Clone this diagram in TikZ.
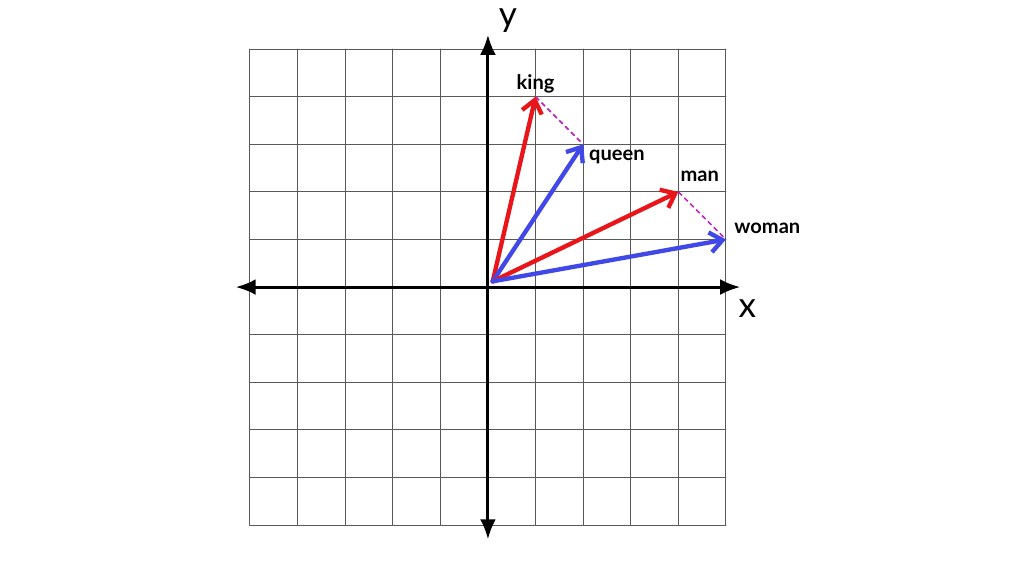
\documentclass[tikz,border=0pt]{standalone}
\usepackage{fontspec}
\setmainfont{Lato}
\usetikzlibrary{arrows.meta}
\definecolor{vred}{RGB}{232,22,26}
\definecolor{vblue}{RGB}{64,72,232}
\definecolor{vdiff}{RGB}{190,40,190}
\tikzset{
  vec/.style={line width=2.6pt,-{Straight Barb[length=7.5pt,width=12pt,line width=2.6pt]}},
  word/.style={font=\bfseries\fontsize{12}{14}\selectfont,inner sep=2pt}
}
\begin{document}
\begin{tikzpicture}[line cap=round,line join=round,x=1cm,y=1cm]
\useasboundingbox (-10.25,-6.07) rectangle (11.26,6.03);
% grid
\foreach \x in {-5,...,5}
{
\draw[black!65,line width=0.6pt] (\x,-5)--(\x,5);
\draw[black!65,line width=0.6pt] (-5,\x)--(5,\x);
}
% axes
\draw[line width=1.8pt,{Latex[length=12pt,width=9.5pt]}-{Latex[length=12pt,width=9.5pt]}] (-5.3,0)--(5.3,0);
\draw[line width=1.8pt,{Latex[length=12pt,width=9.5pt]}-{Latex[length=12pt,width=9.5pt]}] (0,-5.3)--(0,5.3);
\node[font=\fontsize{21}{24}\selectfont] (xlab) at (5.45,-0.45) {x};
\node[font=\fontsize{21}{24}\selectfont] (ylab) at (0.42,5.6) {y};
% word vectors
\coordinate (O) at (0.1,0.12);
\coordinate (king) at (1,4);
\coordinate (queen) at (2,3);
\coordinate (man) at (4,2);
\coordinate (woman) at (5,1);
\draw[vdiff,line width=1pt,dash pattern=on 3pt off 2pt,line cap=butt] (king)--(queen);
\draw[vdiff,line width=1pt,dash pattern=on 3pt off 2pt,line cap=butt] (man)--(woman);
\draw[vec,vred] (O)--(king);
\draw[vec,vblue] (O)--(queen);
\draw[vec,vred] (O)--(man);
\draw[vec,vblue] (O)--(woman);
\node[word,above] (kinglab) at (king) {king};
\node[word,right] (queenlab) at (2.05,2.73) {queen};
\node[word] (manlab) at (4.45,2.33) {man};
\node[word,right] (womanlab) at (5.1,1.24) {woman};
\end{tikzpicture}
\end{document}
